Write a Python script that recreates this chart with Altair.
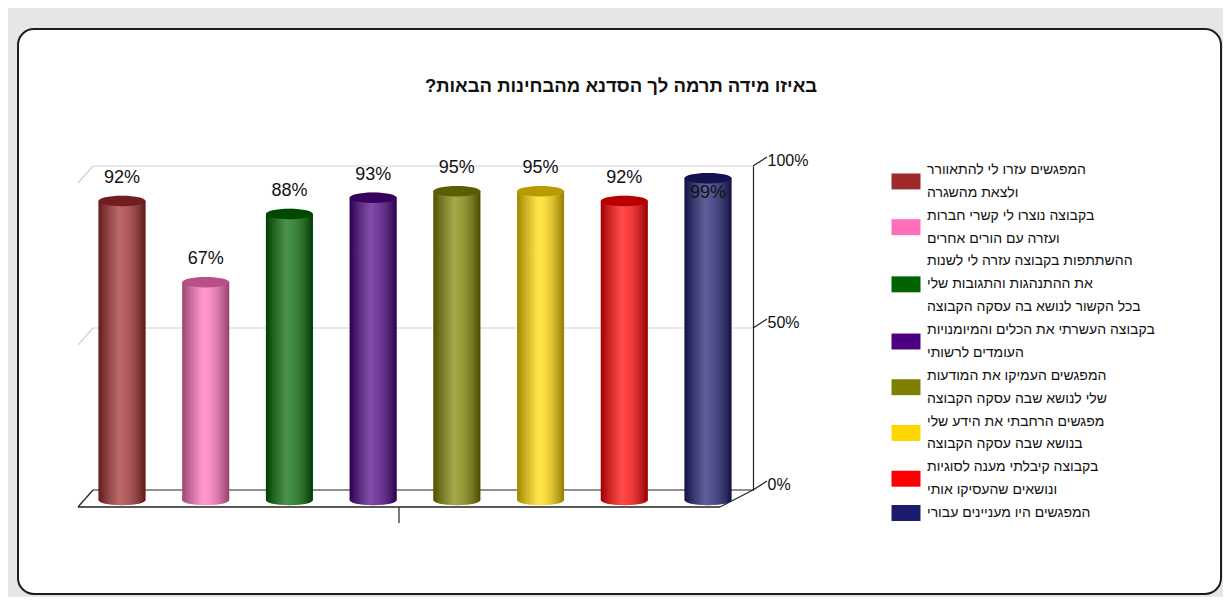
import altair as alt
import pandas as pd

# ---------------- data ----------------
TITLE = "באיזו מידה תרמה לך הסדנא מהבחינות הבאות?"
LEGEND_LINES = [
    ["המפגשים עזרו לי להתאוורר", "ולצאת מהשגרה"],
    ["בקבוצה נוצרו לי קשרי חברות", "ועזרה עם הורים אחרים"],
    ["ההשתתפות בקבוצה עזרה לי לשנות", "את ההתנהגות והתגובות שלי", "בכל הקשור לנושא בה עסקה הקבוצה"],
    ["בקבוצה העשרתי את הכלים והמיומנויות", "העומדים לרשותי"],
    ["המפגשים העמיקו את המודעות", "שלי לנושא שבה עסקה הקבוצה"],
    ["מפגשים הרחבתי את הידע שלי", "בנושא שבה עסקה הקבוצה"],
    ["בקבוצה קיבלתי מענה לסוגיות", "ונושאים שהעסיקו אותי"],
    ["המפגשים היו מעניינים עבורי"],
]
VALUES = [92, 67, 88, 93, 95, 95, 92, 99]
COLORS = ["#9E2A2B", "#FF6EB9", "#006400", "#4B0082", "#808000", "#FFD700", "#FF0000", "#1B1B6E"]
Y_TICKS = [0, 50, 100]

RLM = "\u200f"  # keeps the final question mark inside the right-to-left run

CATS = [" ".join(lines) for lines in LEGEND_LINES]

bars_df = pd.DataFrame({
    "cat": CATS,
    "idx": list(range(len(CATS))),
    "value": VALUES,
    "zero": [0] * len(CATS),
    "label": [f"{v}%" for v in VALUES],
})

line_rows, sym_rows = [], []
k = 0
for cat, lines in zip(CATS, LEGEND_LINES):
    start = k
    for ln in lines:
        line_rows.append({"cat": cat, "k": k, "line": ln})
        k += 1
    sym_rows.append({"cat": cat, "pos": start + (len(lines) - 1) / 2})
lines_df = pd.DataFrame(line_rows)
sym_df = pd.DataFrame(sym_rows)
ticks_df = pd.DataFrame({"v": Y_TICKS})
title_df = pd.DataFrame({"t": [TITLE + RLM]})

# ---------------- scales ----------------
W, H = 1203, 565
x_bar = alt.Scale(domain=[0, 7], range=[99, 695])
y_front = alt.Scale(domain=[0, 100], range=[471, 146])
y_back = alt.Scale(domain=[0, 100], range=[461, 137])
y_leg = alt.Scale(domain=[0, 15], range=[141, 484])
color_scale = alt.Scale(domain=CATS, range=COLORS)

NUMFONT = "Liberation Sans, Arial, sans-serif"
TXTFONT = "Liberation Sans, Arial, DejaVu Sans, sans-serif"
ELLIPSE = "M-1,0A1,0.22,0,1,1,1,0A1,0.22,0,1,1,-1,0Z"
RECT = "M-1,-0.55L1,-0.55L1,0.55L-1,0.55Z"
BAR_W = 47
CAP_SIZE = BAR_W * BAR_W

shade = alt.Gradient(
    gradient="linear", x1=0, x2=1, y1=0, y2=0,
    stops=[
        alt.GradientStop(offset=0, color="rgba(0,0,0,0.38)"),
        alt.GradientStop(offset=0.45, color="rgba(255,255,255,0.30)"),
        alt.GradientStop(offset=0.55, color="rgba(255,255,255,0.25)"),
        alt.GradientStop(offset=1, color="rgba(0,0,0,0.42)"),
    ],
)

X = alt.X("idx:Q", scale=x_bar, axis=None)
COL = alt.Color("cat:N", scale=color_scale, legend=None)

base = alt.Chart(bars_df)

bottom_cap = base.mark_point(shape=ELLIPSE, size=CAP_SIZE, filled=True, opacity=1, strokeWidth=0).encode(
    x=X, y=alt.Y("zero:Q", scale=y_front, axis=None), color=COL)
bottom_shade = base.mark_point(shape=ELLIPSE, size=CAP_SIZE, filled=True, opacity=1, fill=shade, strokeWidth=0).encode(
    x=X, y=alt.Y("zero:Q", scale=y_front, axis=None))
bars = base.mark_bar(size=BAR_W).encode(
    x=X, y=alt.Y("value:Q", scale=y_front, axis=None), color=COL)
bar_shade = base.mark_bar(size=BAR_W, fill=shade).encode(
    x=X, y=alt.Y("value:Q", scale=y_front, axis=None))
top_cap = base.mark_point(shape=ELLIPSE, size=CAP_SIZE, filled=True, opacity=1, strokeWidth=0).encode(
    x=X, y=alt.Y("value:Q", scale=y_front, axis=None), color=COL)
top_dark = base.mark_point(shape=ELLIPSE, size=CAP_SIZE, filled=True, opacity=0.28, color="black", strokeWidth=0).encode(
    x=X, y=alt.Y("value:Q", scale=y_front, axis=None))

lbl_kw = dict(font=NUMFONT, fontSize=18, color="#111111", baseline="middle", align="center")
labels_above = base.transform_filter("datum.value <= 97").mark_text(dy=-23, **lbl_kw).encode(
    x=X, y=alt.Y("value:Q", scale=y_front, axis=None), text="label:N")
labels_inside = base.transform_filter("datum.value > 97").mark_text(dy=15, **lbl_kw).encode(
    x=X, y=alt.Y("value:Q", scale=y_front, axis=None), text="label:N")

# ---------------- 3D walls ----------------
tb = alt.Chart(ticks_df)
GRID = "#D2D2D2"
grid_h = tb.transform_filter("datum.v > 0").mark_rule(color=GRID, strokeWidth=1.2).encode(
    x=alt.value(75), x2=alt.value(735),
    y=alt.Y("v:Q", scale=y_back,
            axis=alt.Axis(orient="right", offset=735 - W, values=Y_TICKS, ticks=False,
                          labelExpr="datum.value + '%'", labelFont=NUMFONT, labelFontSize=16,
                          labelColor="#111111", labelPadding=14, labelOffset=-6,
                          domainColor="#222222", domainWidth=1.2, grid=False, title=None)))
grid_diag = tb.transform_filter("datum.v > 0").mark_rule(color=GRID, strokeWidth=1.2, yOffset=17).encode(
    x=alt.value(60), x2=alt.value(75),
    y=alt.Y("v:Q", scale=y_back, axis=None), y2="v:Q")
axis_ticks = tb.mark_rule(color="#222222", strokeWidth=1.2, y2Offset=-9).encode(
    x=alt.value(735), x2=alt.value(749),
    y=alt.Y("v:Q", scale=y_back, axis=None), y2="v:Q")
floor_back = tb.transform_filter("datum.v == 0").mark_rule(color="#222222", strokeWidth=1.2).encode(
    x=alt.value(75), x2=alt.value(735), y=alt.Y("v:Q", scale=y_back, axis=None))
floor_front = tb.transform_filter("datum.v == 0").mark_rule(color="#222222", strokeWidth=1.5, yOffset=17).encode(
    x=alt.value(60), x2=alt.value(702), y=alt.Y("v:Q", scale=y_back, axis=None))
floor_left = tb.transform_filter("datum.v == 0").mark_rule(color="#222222", strokeWidth=1.2, yOffset=17).encode(
    x=alt.value(60), x2=alt.value(75), y=alt.Y("v:Q", scale=y_back, axis=None), y2="v:Q")
floor_right = tb.transform_filter("datum.v == 0").mark_rule(color="#222222", strokeWidth=1.2, yOffset=17).encode(
    x=alt.value(702), x2=alt.value(735), y=alt.Y("v:Q", scale=y_back, axis=None), y2="v:Q")
x_tick = tb.transform_filter("datum.v == 0").mark_rule(color="#222222", strokeWidth=1.2, yOffset=17, y2Offset=33).encode(
    x=alt.value(381), y=alt.Y("v:Q", scale=y_back, axis=None), y2="v:Q")

# ---------------- title & legend ----------------
title = alt.Chart(title_df).mark_text(
    font=TXTFONT, fontSize=18.5, fontWeight="bold", color="#111111",
    align="center", baseline="middle").encode(
    x=alt.value(603), y=alt.value(57), text="t:N")

leg_sym = alt.Chart(sym_df).mark_point(shape=RECT, size=841, filled=True, opacity=1, strokeWidth=0).encode(
    x=alt.value(888), y=alt.Y("pos:Q", scale=y_leg, axis=None), color=COL)
leg_txt = alt.Chart(lines_df).mark_text(
    font=TXTFONT, fontSize=14, color="#111111", align="left", baseline="middle").encode(
    x=alt.value(909), y=alt.Y("k:Q", scale=y_leg, axis=None), text="line:N")

chart = alt.layer(
    grid_h, grid_diag, floor_back, floor_front, floor_left, floor_right, axis_ticks, x_tick,
    bottom_cap, bottom_shade, bars, bar_shade, top_cap, top_dark,
    labels_above, labels_inside,
    title, leg_sym, leg_txt,
).resolve_scale(y="independent").properties(
    width=W, height=H,
    autosize="none",
    padding={"left": 10, "top": 21, "right": 2, "bottom": 3},
    background="#E6E6E6",
).configure_view(
    fill="white", stroke="#1E1E1E", strokeWidth=2, cornerRadius=16,
)

chart.save("out.html", embed_options={"renderer": "svg", "actions": False})
